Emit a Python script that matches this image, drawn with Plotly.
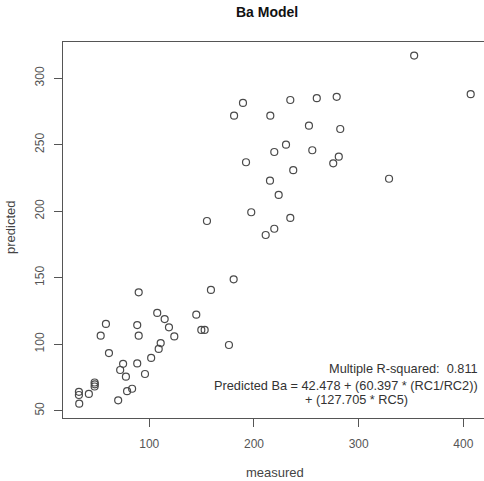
import plotly.graph_objects as go

measured = [353, 407, 189.5, 181, 215.6, 234.7, 260, 279, 252.5, 282.4,
            230.6, 219.4, 255.7, 192.4, 275.7, 281, 237.5, 215.3, 329, 223.6,
            197.4, 155.1, 234.7, 219.4, 211.2, 180.6, 158.9, 89.9, 107.6, 144.9,
            114.7, 58.6, 88.5, 118.8, 149.7, 152.9, 53.6, 89.9, 123.9, 110.9,
            109, 176.1, 61.5, 101.8, 75, 88.5, 72.2, 77.7, 95.9, 83.6,
            78.8, 70.3, 47.8, 48, 47.8, 42.3, 32.8, 32.8, 33.1]
predicted = [317, 288, 281.4, 271.8, 271.8, 283.6, 285, 286, 264.3, 261.8,
             250, 244.5, 245.8, 236.8, 236, 241, 230.8, 222.9, 224.4, 212.2,
             199.2, 192.6, 194.9, 186.8, 182.1, 148.8, 140.8, 139, 123.5, 122.2,
             118.9, 115.2, 114.4, 112.7, 110.7, 110.7, 106.4, 106.4, 105.8, 100.8,
             96.4, 99.4, 93.3, 89.7, 85.2, 85.5, 80.6, 75.6, 77.6, 66.5,
             64.7, 57.8, 71.2, 69.8, 68.2, 62.6, 64.2, 61.8, 55.3]

x_ticks = [100, 200, 300, 400]
y_ticks = [50, 100, 150, 200, 250, 300]
title_text = "Ba Model"
x_label = "measured"
y_label = "predicted"
note_lines = ["Multiple R-squared:  0.811",
              "Predicted Ba = 42.478 + (60.397 * (RC1/RC2))",
              "+ (127.705 * RC5)"]

W, H = 484, 481
L, T, R, B = 63, 42, 484, 418

def px(x):
    return (x - L) / (R - L)

def py(y):
    return (B - y) / (B - T)

fig = go.Figure()
fig.add_trace(go.Scatter(
    x=measured, y=predicted, mode="markers",
    marker=dict(symbol="circle-open", size=7, color="#4a4a4a", line=dict(width=1.2)),
    showlegend=False, hoverinfo="skip"))

tickfont = dict(family="Liberation Sans, Arial, sans-serif", size=12, color="#555555")

fig.update_xaxes(range=[17.6, 419.7], tickvals=x_ticks, ticks="outside", ticklen=8,
                 tickcolor="#555555", tickwidth=1, showgrid=False, zeroline=False,
                 showline=True, linecolor="#555555", linewidth=1, mirror=True,
                 tickfont=tickfont, ticklabelstandoff=7)
fig.update_yaxes(range=[44.5, 327.2], tickvals=y_ticks, ticks="outside", ticklen=8,
                 tickcolor="#555555", tickwidth=1, showgrid=False, zeroline=False,
                 showline=True, linecolor="#555555", linewidth=1, mirror=False,
                 tickangle=-90, tickfont=tickfont, ticklabelstandoff=5)

note_font = dict(size=12.75, color="#333333")
annots = [
    dict(text=f"<b>{title_text}</b>", x=px(267), y=py(12), xanchor="center", yanchor="middle",
         font=dict(size=14, color="#111111")),
    dict(text=x_label, x=px(275), y=py(472), xanchor="center", yanchor="middle",
         font=dict(size=13, color="#444444")),
    dict(text=y_label, x=px(10), y=py(228), xanchor="center", yanchor="middle", textangle=-90,
         font=dict(size=13, color="#444444")),
    dict(text=note_lines[0] + "<br>" + note_lines[1], x=px(480), y=py(377),
         xanchor="right", yanchor="middle", align="right", font=dict(note_font)),
    dict(text=note_lines[2], x=px(356), y=py(399), xanchor="center", yanchor="middle",
         font=dict(note_font)),
]
for a in annots:
    a.update(xref="paper", yref="paper", showarrow=False)
    a["font"]["family"] = "Liberation Sans, Arial, sans-serif"
fig.update_layout(annotations=annots)

fig.update_layout(width=W, height=H, margin=dict(l=L, r=W - R, t=T, b=H - B),
                  paper_bgcolor="white", plot_bgcolor="white",
                  font=dict(family="Liberation Sans, Arial, sans-serif"))

fig.write_html("out.html")
